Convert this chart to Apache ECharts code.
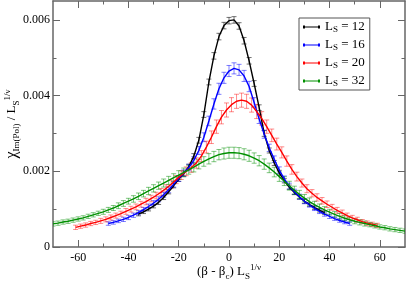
<!DOCTYPE html>
<html><head><meta charset="utf-8">
<script src="https://cdn.jsdelivr.net/npm/echarts@6/dist/echarts.min.js"></script>
<style>html,body{margin:0;padding:0;background:#fff}#c{width:407px;height:282px}</style>
</head><body><div id="c"></div>
<script>
// ---- data ----
const xs12 = [-36,-34,-32,-30,-28,-26,-24,-22,-20,-18,-16,-14,-12,-10,-8,-6,-4,-2,0,2,4,6,8,10,12,14,16,18,20,22,24,26,28,30,32,34,36,38];
const ys12 = [0.00087,0.00093,0.00100,0.00108,0.00118,0.00131,0.00146,0.00162,0.00179,
  0.00194,0.00212,0.00240,0.00282,0.00350,0.00436,0.00505,0.00556,0.00585,
  0.00598,0.00600,0.00584,0.00545,0.00492,0.00432,0.00368,0.00300,0.00255,
  0.00222,0.00196,0.00175,0.00158,0.00144,0.00132,0.00121,0.00112,0.00104,0.00097,0.00091];
const es12 = [0.00002,0.00002,0.00002,0.00002,0.00003,0.00003,0.00003,0.00003,0.00003,
  0.00004,0.00004,0.00004,0.00005,0.00005,0.00005,0.00006,0.00006,0.00006,
  0.00006,0.00006,0.00006,0.00006,0.00006,0.00005,0.00005,0.00005,0.00004,
  0.00004,0.00004,0.00003,0.00003,0.00003,0.00003,0.00003,0.00002,0.00002,0.00002,0.00002];

const xs16 = [-48,-46,-44,-42,-40,-38,-36,-34,-32,-30,-28,-26,-24,-22,-20,-18,-16,-14,-12,-10,-8,-6,-4,-2,0,2,4,6,8,10,12,14,16,18,20,22,24,26,28,30,32,34,36,38,40,42,44,46,48];
const ys16 = [0.00062,0.00065,0.00069,0.00073,0.00078,0.00084,0.00091,0.00099,0.00107,0.00116,
  0.00126,0.00138,0.00151,0.00166,0.00181,0.00195,0.00210,0.00229,0.00255,0.00290,
  0.00333,0.00378,0.00418,0.00447,0.00465,0.00472,0.00468,0.00452,0.00424,0.00382,
  0.00338,0.00298,0.00262,0.00232,0.00203,0.00180,0.00161,0.00146,0.00133,0.00121,
  0.00111,0.00102,0.00094,0.00087,0.00081,0.00075,0.00070,0.00066,0.00062];
const es16 = [0.00002,0.00002,0.00002,0.00003,0.00003,0.00003,0.00003,0.00003,0.00004,0.00004,
  0.00004,0.00004,0.00005,0.00005,0.00005,0.00006,0.00006,0.00007,0.00008,0.00009,
  0.00010,0.00011,0.00012,0.00012,0.00012,0.00012,0.00012,0.00012,0.00011,0.00010,
  0.00009,0.00008,0.00007,0.00006,0.00006,0.00005,0.00005,0.00004,0.00004,0.00004,
  0.00003,0.00003,0.00003,0.00003,0.00003,0.00002,0.00002,0.00002,0.00002];

const xs20 = [-61,-59,-57,-55,-53,-51,-49,-47,-45,-43,-41,-39,-37,-35,-33,-31,-29,-27,-25,-23,-21,-19,-17,-15,-13,-11,-9,-7,-5,-3,-1,1,3,5,7,9,11,13,15,17,19,21,23,25,27,29,31,33,35,37,39,41,43,45,47,49,51,53,55,57,59];
const ys20 = [0.00052,0.00055,0.00058,0.00062,0.00065,0.00069,0.00073,0.00078,0.00083,0.00088,
  0.00094,0.00100,0.00106,0.00113,0.00120,0.00128,0.00136,0.00145,0.00155,0.00166,
  0.00178,0.00190,0.00200,0.00210,0.00222,0.00240,0.00264,0.00290,0.00318,0.00343,
  0.00362,0.00376,0.00385,0.00388,0.00385,0.00375,0.00358,0.00340,0.00318,0.00295,
  0.00272,0.00250,0.00227,0.00205,0.00186,0.00169,0.00154,0.00142,0.00131,0.00122,
  0.00113,0.00105,0.00097,0.00090,0.00083,0.00077,0.00072,0.00067,0.00063,0.00060,0.00057];
const es20 = [0.00003,0.00003,0.00003,0.00003,0.00003,0.00004,0.00004,0.00004,0.00004,0.00004,
  0.00005,0.00005,0.00005,0.00005,0.00006,0.00006,0.00006,0.00007,0.00007,0.00008,
  0.00008,0.00009,0.00009,0.00010,0.00011,0.00012,0.00013,0.00014,0.00015,0.00015,
  0.00016,0.00016,0.00016,0.00016,0.00016,0.00016,0.00016,0.00015,0.00015,0.00014,
  0.00013,0.00012,0.00011,0.00010,0.00009,0.00008,0.00008,0.00007,0.00007,0.00006,
  0.00006,0.00005,0.00005,0.00005,0.00004,0.00004,0.00004,0.00003,0.00003,0.00003,0.00003];

const xs32 = [-70,-68,-66,-64,-62,-60,-58,-56,-54,-52,-50,-48,-46,-44,-42,-40,-38,-36,-34,-32,-30,-28,-26,-24,-22,-20,-18,-16,-14,-12,-10,-8,-6,-4,-2,0,2,4,6,8,10,12,14,16,18,20,22,24,26,28,30,32,34,36,38,40,42,44,46,48,50,52,54,56,58,60,62,64,66,68,70];
const ys32 = [0.00061,0.00063,0.00066,0.00068,0.00071,0.00074,0.00077,0.00081,0.00085,0.00089,
  0.00093,0.00098,0.00103,0.00109,0.00115,0.00121,0.00127,0.00134,0.00141,0.00148,
  0.00155,0.00162,0.00169,0.00176,0.00183,0.00190,0.00197,0.00204,0.00211,0.00219,
  0.00226,0.00233,0.00239,0.00244,0.00247,0.00249,0.00249,0.00248,0.00245,0.00241,
  0.00235,0.00228,0.00219,0.00209,0.00198,0.00186,0.00174,0.00162,0.00150,0.00139,
  0.00129,0.00120,0.00112,0.00105,0.00098,0.00092,0.00086,0.00081,0.00076,0.00072,
  0.00068,0.00065,0.00062,0.00059,0.00056,0.00053,0.00051,0.00048,0.00046,0.00044,0.00042];
const es32 = [0.00003,0.00003,0.00003,0.00003,0.00003,0.00003,0.00003,0.00003,0.00003,0.00003,
  0.00004,0.00004,0.00004,0.00005,0.00005,0.00005,0.00006,0.00006,0.00006,0.00007,
  0.00007,0.00007,0.00008,0.00008,0.00008,0.00009,0.00009,0.00009,0.00010,0.00010,
  0.00010,0.00011,0.00011,0.00011,0.00012,0.00012,0.00012,0.00012,0.00012,0.00012,
  0.00011,0.00011,0.00011,0.00010,0.00010,0.00010,0.00009,0.00009,0.00008,0.00008,
  0.00007,0.00007,0.00006,0.00006,0.00006,0.00005,0.00005,0.00005,0.00004,0.00004,
  0.00004,0.00004,0.00004,0.00003,0.00003,0.00003,0.00003,0.00003,0.00003,0.00003,0.00003];

const seriesLabels = ['12','16','20','32'];
const xMajorTicks = [-60,-40,-20,0,20,40,60];
const xMinorTicks = [-50,-30,-10,10,30,50];
const yMajorTicks = [0,0.002,0.004,0.006];
const yMinorTicks = [0.001,0.003,0.005];

// ---- chart ----
const FONT = 'Liberation Serif';
const AXC = '#666666';
const sets = [
  {name:seriesLabels[0], xs:xs12, ys:ys12, es:es12, color:'#000000', bar:'rgba(0,0,0,0.55)'},
  {name:seriesLabels[1], xs:xs16, ys:ys16, es:es16, color:'#0000ff', bar:'rgba(0,0,255,0.5)'},
  {name:seriesLabels[2], xs:xs20, ys:ys20, es:es20, color:'#ff0000', bar:'rgba(255,0,0,0.45)'},
  {name:seriesLabels[3], xs:xs32, ys:ys32, es:es32, color:'#009000', bar:'rgba(0,144,0,0.5)'}
];
const series = [];
sets.forEach(s => {
  series.push({
    type:'custom', name:'err'+s.name, xAxisIndex:0, yAxisIndex:0, silent:true, animation:false, clip:true,
    data: s.xs.map((x,i)=>[x, s.ys[i], s.es[i]]),
    renderItem: (params, api) => {
      const x = api.value(0), y = api.value(1), e = api.value(2);
      const t = api.coord([x, y+e]), b = api.coord([x, y-e]);
      const w = 2.5;
      const st = {stroke:s.bar, lineWidth:1};
      return {type:'group', children:[
        {type:'line', shape:{x1:t[0],y1:t[1]-1,x2:b[0],y2:b[1]+1}, style:st},
        {type:'line', shape:{x1:t[0]-w,y1:t[1]-1,x2:t[0]+w,y2:t[1]-1}, style:st},
        {type:'line', shape:{x1:b[0]-w,y1:b[1]+1,x2:b[0]+w,y2:b[1]+1}, style:st}
      ]};
    }
  });
  series.push({
    type:'line', name:s.name, xAxisIndex:0, yAxisIndex:0, showSymbol:false, animation:false,
    data: s.xs.map((x,i)=>[x, s.ys[i]]),
    lineStyle:{color:s.color, width:1.4}, itemStyle:{color:s.color}
  });
});

const lineStyle = {color:AXC, width:1.5};
const tickStyle = {color:AXC, width:1};
const rich = {
  t:{fontFamily:FONT, fontSize:13, color:'#000', lineHeight:18},
  x:{fontFamily:FONT, fontSize:16, color:'#000', lineHeight:18},
  s:{fontFamily:FONT, fontSize:9, color:'#000', lineHeight:9, verticalAlign:'bottom'},
  p:{fontFamily:FONT, fontSize:9, color:'#000', lineHeight:9, verticalAlign:'top'}
};
function xax(grid, pos, ticks, len, showLine, labels) {
  return {gridIndex:grid, type:'value', position:pos, min:-70, max:70, interval:10,
    axisLine:{show:showLine, onZero:false, lineStyle},
    axisTick:{show:true, inside:true, length:len, customValues:ticks, lineStyle:tickStyle},
    axisLabel:{show:labels, customValues:ticks, fontFamily:FONT, fontSize:12, color:'#000', margin:5, formatter:v=>String(v)},
    splitLine:{show:false}};
}
function yax(grid, pos, ticks, len, showLine, labels) {
  return {gridIndex:grid, type:'value', position:pos, min:0, max:0.0065, interval:0.001,
    axisLine:{show:showLine, onZero:false, lineStyle},
    axisTick:{show:true, inside:true, length:len, customValues:ticks, lineStyle:tickStyle},
    axisLabel:{show:labels, customValues:ticks, fontFamily:FONT, fontSize:12, color:'#000', margin:3,
      formatter:v=> v===0 ? '0' : v.toFixed(3)},
    splitLine:{show:false}};
}
const xMain = xax(0,'bottom',xMajorTicks,7,true,true);
xMain.name = '{t|(β - β}{s|c}{t|) L}{s|S}{p|1/ν}';
xMain.nameLocation = 'middle'; xMain.nameGap = 16; xMain.nameMoveOverlap = false;
xMain.nameTextStyle = {rich};
const yMain = yax(0,'left',yMajorTicks,7,true,true);
yMain.name = '{x|χ}{s|Im(Pol)}{t| / L}{s|S}{p|1/ν}';
yMain.nameLocation = 'middle'; yMain.nameGap = 32; yMain.nameMoveOverlap = false;
yMain.nameTextStyle = {rich};

const chart = echarts.init(document.getElementById('c'), null, {renderer:'canvas'});
chart.setOption({
  animation:false,
  backgroundColor:'#ffffff',
  grid:[
    {left:53, top:1, width:352, height:246, containLabel:false, outerBoundsMode:'none'},
    {left:53, top:1, width:352, height:246, containLabel:false, outerBoundsMode:'none'}
  ],
  xAxis:[
    xMain,
    xax(0,'top',xMajorTicks,7,true,false),
    xax(1,'bottom',xMinorTicks,3.5,false,false),
    xax(1,'top',xMinorTicks,3.5,false,false)
  ],
  yAxis:[
    yMain,
    yax(0,'right',yMajorTicks,7,true,false),
    yax(1,'left',yMinorTicks,3.5,false,false),
    yax(1,'right',yMinorTicks,3.5,false,false)
  ],
  legend:{
    data:seriesLabels, orient:'vertical', left:299, top:18, selectedMode:false,
    backgroundColor:'#fff', borderColor:'#555', borderWidth:1, padding:[2,5,2,4],
    itemGap:4, itemWidth:17, itemHeight:3,
    icon:'path://M0,0h2v3h-2z M2,1h13v1h-13z M15,0h2v3h-2z',
    formatter: n => '{a|L}{s|S}{a| = ' + n + '}',
    textStyle:{fontFamily:FONT, fontSize:13, color:'#000', lineHeight:14,
      rich:{
        a:{fontFamily:FONT, fontSize:13, color:'#000', lineHeight:14},
        s:{fontFamily:FONT, fontSize:9, color:'#000', lineHeight:8, verticalAlign:'bottom'}
      }}
  },
  series
});
</script>
</body></html>
